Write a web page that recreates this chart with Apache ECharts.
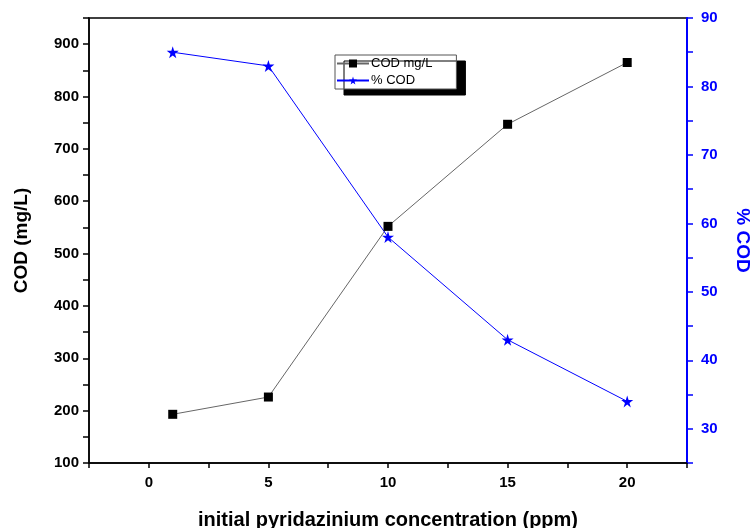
<!DOCTYPE html>
<html>
<head>
<meta charset="UTF-8">
<title>COD chart</title>
<script src="https://cdn.jsdelivr.net/npm/echarts@6/dist/echarts.min.js"></script>
<style>
  html, body { margin: 0; padding: 0; background: #fff; }
  #chart { width: 752px; height: 528px; }
</style>
</head>
<body>
<div id="chart"></div>
<script>
// data
var conc = [1, 5, 10, 15, 20];
var codMg = [193, 226, 552, 747, 865];
var codPct = [85, 83, 58, 43, 34];

var starPath = 'path://M50,0 L61,35 L98,35 L68,57 L79,91 L50,70 L21,91 L32,57 L2,35 L39,35 Z';
var fnt = '"Liberation Sans", Arial, sans-serif';

function pairs(xs, ys) {
  var out = [];
  for (var i = 0; i < xs.length; i++) out.push([xs[i], ys[i]]);
  return out;
}

var myChart = echarts.init(document.getElementById('chart'));
var option = {
  animation: false,
  grid: {
    left: 89, right: 65, top: 18, bottom: 65,
    outerBoundsMode: 'none', containLabel: false,
    show: true, borderColor: '#000', borderWidth: 1.5
  },
  legend: {
    left: 335, top: 55,
    orient: 'vertical',
    itemGap: 4, itemWidth: 32, itemHeight: 10,
    padding: [2, 24, 2, 1],
    backgroundColor: '#fff',
    borderColor: '#555', borderWidth: 1, borderRadius: 0,
    shadowColor: '#000', shadowBlur: 0, shadowOffsetX: 9, shadowOffsetY: 6,
    textStyle: { fontFamily: fnt, fontSize: 13, color: '#000', padding: [0, 0, 0, -3] },
    data: ['COD mg/L', '% COD']
  },
  xAxis: {
    type: 'value', min: -2.5, max: 22.5, interval: 2.5,
    name: 'initial pyridazinium concentration (ppm)',
    nameLocation: 'middle', nameGap: 47,
    nameTextStyle: { fontFamily: fnt, fontSize: 20, fontWeight: 'bold', color: '#000' },
    axisLine: { onZero: false, lineStyle: { color: '#000', width: 1.5 } },
    axisTick: { inside: false, length: 5, lineStyle: { color: '#000', width: 1.5 } },
    splitLine: { show: false },
    axisLabel: {
      fontFamily: fnt, fontSize: 15, fontWeight: 'bold', color: '#000', margin: 12,
      showMinLabel: true, showMaxLabel: true,
      formatter: function (v) { return (v % 5 === 0) ? String(v) : ''; }
    }
  },
  yAxis: [{
    type: 'value', min: 100, max: 950, interval: 50,
    name: 'COD (mg/L)', nameLocation: 'middle', nameGap: 58, nameRotate: 90,
    nameTextStyle: { fontFamily: fnt, fontSize: 19, fontWeight: 'bold', color: '#000' },
    axisLine: { show: true, onZero: false, lineStyle: { color: '#000', width: 1.5 } },
    axisTick: { show: true, length: 6, lineStyle: { color: '#000', width: 1.5 } },
    splitLine: { show: false },
    axisLabel: {
      fontFamily: fnt, fontSize: 15, fontWeight: 'bold', color: '#000', margin: 10,
      formatter: function (v) { return (v % 100 === 0) ? String(v) : ''; }
    }
  }, {
    type: 'value', min: 25, max: 90, interval: 5, position: 'right',
    name: '% COD', nameLocation: 'middle', nameGap: 46, nameRotate: -90,
    nameTextStyle: { fontFamily: fnt, fontSize: 19, fontWeight: 'bold', color: '#0000ff' },
    axisLine: { show: true, onZero: false, lineStyle: { color: '#0000ff', width: 2 } },
    axisTick: { show: true, length: 6, lineStyle: { color: '#0000ff', width: 1.5 } },
    splitLine: { show: false },
    axisLabel: {
      fontFamily: fnt, fontSize: 15, fontWeight: 'bold', color: '#0000ff', margin: 14,
      formatter: function (v) { return (v % 10 === 0) ? String(v) : ''; }
    }
  }],
  series: [{
    name: 'COD mg/L', type: 'line', yAxisIndex: 0,
    data: pairs(conc, codMg),
    symbol: 'rect', symbolSize: 9,
    itemStyle: { color: '#000' },
    lineStyle: { color: '#666', width: 1 }
  }, {
    name: '% COD', type: 'line', yAxisIndex: 1,
    data: pairs(conc, codPct),
    symbol: starPath, symbolSize: 12,
    itemStyle: { color: '#0000ff' },
    lineStyle: { color: '#0000ff', width: 1 }
  }]
};
myChart.setOption(option);
</script>
</body>
</html>
